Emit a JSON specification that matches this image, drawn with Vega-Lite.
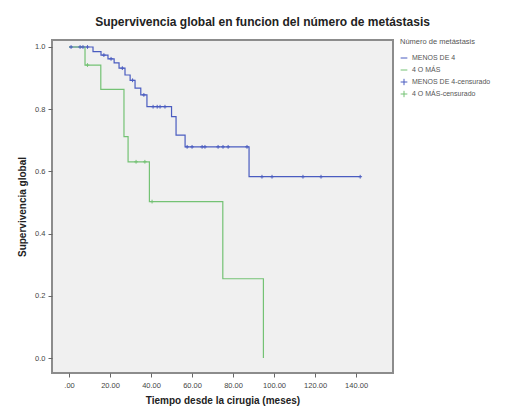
{
  "$schema": "https://vega.github.io/schema/vega-lite/v6.json",
  "autosize": "none",
  "width": 341,
  "height": 333,
  "padding": {"left": 52, "top": 40, "right": 115, "bottom": 39},
  "background": "white",
  "config": {
    "font": "Liberation Sans",
    "view": {"fill": "#F0F0F0", "stroke": "#8c8c8c", "strokeWidth": 2}
  },
  "title": {
    "text": "Supervivencia global en funcion del número de metástasis",
    "fontSize": 12,
    "fontWeight": "bold",
    "color": "#222",
    "anchor": "middle",
    "frame": "group",
    "dx": 40,
    "offset": 9
  },
  "datasets": {
    "curves": [
      {"serie": "MENOS DE 4", "t": 0, "s": 1.0},
      {"serie": "MENOS DE 4", "t": 11.7, "s": 0.985},
      {"serie": "MENOS DE 4", "t": 15.6, "s": 0.974},
      {"serie": "MENOS DE 4", "t": 19, "s": 0.962},
      {"serie": "MENOS DE 4", "t": 22, "s": 0.949},
      {"serie": "MENOS DE 4", "t": 24.4, "s": 0.932},
      {"serie": "MENOS DE 4", "t": 27.3, "s": 0.91},
      {"serie": "MENOS DE 4", "t": 29.8, "s": 0.893},
      {"serie": "MENOS DE 4", "t": 32.2, "s": 0.868},
      {"serie": "MENOS DE 4", "t": 35, "s": 0.846},
      {"serie": "MENOS DE 4", "t": 38, "s": 0.808},
      {"serie": "MENOS DE 4", "t": 50, "s": 0.776},
      {"serie": "MENOS DE 4", "t": 52.2, "s": 0.717},
      {"serie": "MENOS DE 4", "t": 56.6, "s": 0.679},
      {"serie": "MENOS DE 4", "t": 87.8, "s": 0.583},
      {"serie": "MENOS DE 4", "t": 142, "s": 0.583},
      {"serie": "4 O MÁS", "t": 0, "s": 1.0},
      {"serie": "4 O MÁS", "t": 7.8, "s": 0.942},
      {"serie": "4 O MÁS", "t": 15.5, "s": 0.864},
      {"serie": "4 O MÁS", "t": 26.8, "s": 0.712},
      {"serie": "4 O MÁS", "t": 28.8, "s": 0.631},
      {"serie": "4 O MÁS", "t": 39.2, "s": 0.503},
      {"serie": "4 O MÁS", "t": 75, "s": 0.255},
      {"serie": "4 O MÁS", "t": 94.8, "s": 0.0}
    ],
    "censored": [
      {"serie": "MENOS DE 4-censurado", "t": 1, "s": 1.0},
      {"serie": "MENOS DE 4-censurado", "t": 5.4, "s": 1.0},
      {"serie": "MENOS DE 4-censurado", "t": 6.8, "s": 1.0},
      {"serie": "MENOS DE 4-censurado", "t": 9, "s": 1.0},
      {"serie": "MENOS DE 4-censurado", "t": 17, "s": 0.974},
      {"serie": "MENOS DE 4-censurado", "t": 20.5, "s": 0.962},
      {"serie": "MENOS DE 4-censurado", "t": 26, "s": 0.932},
      {"serie": "MENOS DE 4-censurado", "t": 31, "s": 0.893},
      {"serie": "MENOS DE 4-censurado", "t": 36.5, "s": 0.846},
      {"serie": "MENOS DE 4-censurado", "t": 41, "s": 0.808},
      {"serie": "MENOS DE 4-censurado", "t": 43, "s": 0.808},
      {"serie": "MENOS DE 4-censurado", "t": 44.4, "s": 0.808},
      {"serie": "MENOS DE 4-censurado", "t": 46.8, "s": 0.808},
      {"serie": "MENOS DE 4-censurado", "t": 57.6, "s": 0.679},
      {"serie": "MENOS DE 4-censurado", "t": 60, "s": 0.679},
      {"serie": "MENOS DE 4-censurado", "t": 64.9, "s": 0.679},
      {"serie": "MENOS DE 4-censurado", "t": 66.3, "s": 0.679},
      {"serie": "MENOS DE 4-censurado", "t": 72.7, "s": 0.679},
      {"serie": "MENOS DE 4-censurado", "t": 75.1, "s": 0.679},
      {"serie": "MENOS DE 4-censurado", "t": 77.6, "s": 0.679},
      {"serie": "MENOS DE 4-censurado", "t": 86.8, "s": 0.679},
      {"serie": "MENOS DE 4-censurado", "t": 94.1, "s": 0.583},
      {"serie": "MENOS DE 4-censurado", "t": 99, "s": 0.583},
      {"serie": "MENOS DE 4-censurado", "t": 114.1, "s": 0.583},
      {"serie": "MENOS DE 4-censurado", "t": 122.9, "s": 0.583},
      {"serie": "MENOS DE 4-censurado", "t": 142, "s": 0.583},
      {"serie": "4 O MÁS-censurado", "t": 9, "s": 0.942},
      {"serie": "4 O MÁS-censurado", "t": 32.7, "s": 0.631},
      {"serie": "4 O MÁS-censurado", "t": 37, "s": 0.631},
      {"serie": "4 O MÁS-censurado", "t": 40.5, "s": 0.503}
    ]
  },
  "layer": [
    {
      "data": {"name": "curves"},
      "mark": {"type": "line", "interpolate": "step-after", "strokeWidth": 1.2},
      "encoding": {
        "x": {"field": "t", "type": "quantitative"},
        "y": {"field": "s", "type": "quantitative"},
        "color": {"field": "serie", "type": "nominal"},
        "detail": {"field": "serie"}
      }
    },
    {
      "data": {"name": "censored"},
      "mark": {"type": "point", "filled": false, "strokeWidth": 1, "size": 14, "opacity": 1},
      "encoding": {
        "x": {"field": "t", "type": "quantitative"},
        "y": {"field": "s", "type": "quantitative"},
        "color": {"field": "serie", "type": "nominal"},
        "shape": {
          "field": "serie",
          "type": "nominal",
          "scale": {
            "domain": ["MENOS DE 4", "4 O MÁS", "MENOS DE 4-censurado", "4 O MÁS-censurado"],
            "range": ["M-1,0L1,0", "M-1,0L1,0", "M-1,0L1,0M0,-1L0,1", "M-1,0L1,0M0,-1L0,1"]
          }
        }
      }
    }
  ],
  "resolve": {"scale": {"color": "shared", "x": "shared", "y": "shared"}},
  "encoding": {
    "x": {
      "field": "t",
      "type": "quantitative",
      "scale": {"domain": [-8.3, 158], "nice": false, "zero": false},
      "axis": {
        "title": "Tiempo desde la cirugia (meses)",
        "values": [0, 20, 40, 60, 80, 100, 120, 140],
        "labelExpr": "datum.value == 0 ? '.00' : format(datum.value, '.2f')",
        "grid": false,
        "domain": false,
        "tickColor": "#666",
        "tickSize": 4,
        "labelFontSize": 7.5,
        "labelColor": "#444",
        "labelPadding": 4,
        "titleFontSize": 10,
        "titleFontWeight": "bold",
        "titleColor": "#222",
        "titlePadding": 7
      }
    },
    "y": {
      "field": "s",
      "type": "quantitative",
      "scale": {"domain": [-0.048, 1.0225], "nice": false, "zero": false},
      "axis": {
        "title": "Supervivencia global",
        "values": [0, 0.2, 0.4, 0.6, 0.8, 1.0],
        "format": ".1f",
        "grid": false,
        "domain": false,
        "tickColor": "#666",
        "tickSize": 4,
        "labelFontSize": 7.5,
        "labelColor": "#444",
        "labelPadding": 3,
        "titleFontSize": 10,
        "titleFontWeight": "bold",
        "titleColor": "#222",
        "titlePadding": 7
      }
    },
    "color": {
      "field": "serie",
      "type": "nominal",
      "scale": {
        "domain": ["MENOS DE 4", "4 O MÁS", "MENOS DE 4-censurado", "4 O MÁS-censurado"],
        "range": ["#4a5cc0", "#74c274", "#4a5cc0", "#74c274"]
      },
      "legend": {
        "title": "Número de metástasis",
        "orient": "none",
        "legendX": 348,
        "legendY": -2,
        "titleFontSize": 7.5,
        "titleFontWeight": "normal",
        "titleColor": "#555",
        "titlePadding": 9,
        "labelFontSize": 7,
        "labelColor": "#555",
        "symbolSize": 45,
        "symbolStrokeWidth": 1,
        "clipHeight": 7,
        "rowPadding": 4,
        "labelOffset": 4
      }
    }
  }
}
